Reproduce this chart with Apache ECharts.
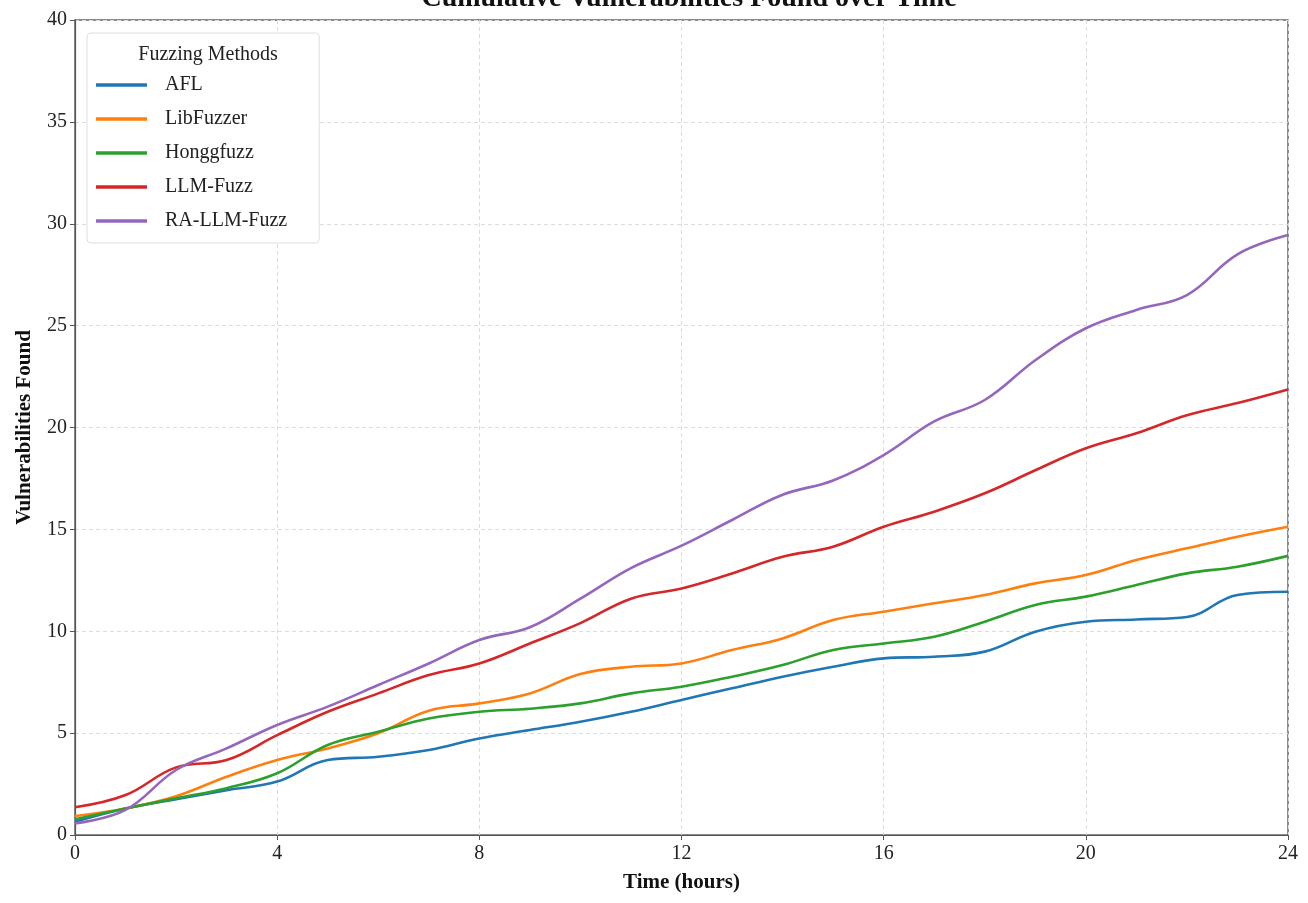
<!DOCTYPE html>
<html><head><meta charset="utf-8">
<script src="https://cdn.jsdelivr.net/npm/echarts@6/dist/echarts.min.js"></script>
<style>html,body{margin:0;padding:0;background:#fff}#c{width:1308px;height:903px}</style>
</head><body><div id="c"></div>
<script>
const hours = [0,1,2,3,4,5,6,7,8,9,10,11,12,13,14,15,16,17,18,19,20,21,22,23,24];
const seriesNames = ['AFL','LibFuzzer','Honggfuzz','LLM-Fuzz','RA-LLM-Fuzz'];
const afl = [0.65,1.3,1.75,2.2,2.62,3.68,3.84,4.17,4.74,5.15,5.56,6.05,6.63,7.2,7.77,8.26,8.67,8.75,9.0,9.98,10.47,10.58,10.7,11.78,11.94];
const libfuzzer = [0.93,1.3,1.9,2.86,3.68,4.25,4.99,6.1,6.46,6.95,7.9,8.26,8.42,9.08,9.65,10.55,10.96,11.37,11.78,12.35,12.76,13.5,14.07,14.64,15.13];
const honggfuzz = [0.77,1.3,1.8,2.3,3.03,4.42,5.07,5.72,6.05,6.2,6.46,6.95,7.28,7.77,8.34,9.08,9.4,9.73,10.47,11.29,11.7,12.27,12.84,13.17,13.7];
const llmFuzz = [1.36,1.96,3.32,3.68,4.9,6.05,6.95,7.85,8.42,9.4,10.4,11.6,12.1,12.84,13.66,14.15,15.13,15.87,16.77,17.9,18.98,19.72,20.6,21.2,21.87];
const raLlmFuzz = [0.57,1.23,3.19,4.25,5.4,6.3,7.36,8.42,9.57,10.2,11.6,13.1,14.2,15.46,16.7,17.4,18.65,20.3,21.35,23.3,24.87,25.77,26.5,28.5,29.45];
const colors = ['#1f77b4','#ff7f0e','#2ca02c','#d62728','#9467bd'];
const allValues = [afl, libfuzzer, honggfuzz, llmFuzz, raLlmFuzz];

const FONT = '"Liberation Serif","DejaVu Serif",serif';
const chart = echarts.init(document.getElementById('c'));
const axisCommon = {
  axisLine:{show:true,lineStyle:{color:'#555',width:1.2}},
  axisTick:{show:true,length:5,lineStyle:{color:'#555'}},
  axisLabel:{color:'#222',fontFamily:FONT,fontSize:20},
  splitLine:{show:true,lineStyle:{color:'#dcdcdc',type:[4,3],width:1}},
  nameTextStyle:{fontFamily:FONT,fontSize:21,fontWeight:'bold',color:'#111'}
};
chart.setOption({
  animation:false,
  title:[
    {text:'Cumulative Vulnerabilities Found over Time',left:684,top:-20,textAlign:'center',
     textStyle:{fontFamily:FONT,fontSize:28,fontWeight:'bold',color:'#111'}},
    {text:'Fuzzing Methods',left:203,top:40,textAlign:'center',
     textStyle:{fontFamily:FONT,fontSize:20,fontWeight:'normal',color:'#222'}}
  ],
  grid:{left:75,right:20,top:20,bottom:68,show:true,borderColor:'#666',borderWidth:1.5},
  legend:{
    orient:'vertical',left:87,top:33,
    data:seriesNames,
    icon:'rect',itemWidth:51,itemHeight:3.5,itemGap:12,
    padding:[41,32,11,9],
    backgroundColor:'rgba(255,255,255,0.9)',borderColor:'#ddd',borderWidth:1,borderRadius:4,
    textStyle:{fontFamily:FONT,fontSize:20,color:'#222',padding:[0,0,0,13],lineHeight:22}
  },
  xAxis:Object.assign({type:'value',min:0,max:24,interval:4,name:'Time (hours)',nameLocation:'middle',nameGap:37},axisCommon,
    {axisLabel:Object.assign({},axisCommon.axisLabel,{margin:9})}),
  yAxis:Object.assign({type:'value',min:0,max:40,interval:5,name:'Vulnerabilities Found',nameLocation:'middle',nameGap:40},axisCommon,
    {axisLabel:Object.assign({},axisCommon.axisLabel,{margin:8})}),
  series:seriesNames.map((n,i)=>({
    name:n,type:'line',smooth:0.4,showSymbol:false,symbol:'none',
    lineStyle:{color:colors[i],width:2.6},itemStyle:{color:colors[i]},
    data:hours.map((h,j)=>[h,allValues[i][j]]),z:2+i
  }))
});
</script></body></html>
